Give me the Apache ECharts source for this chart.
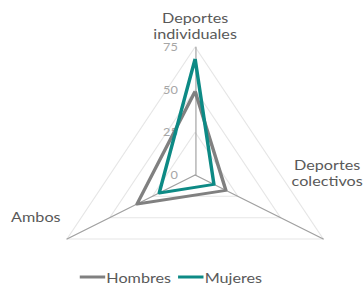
<!DOCTYPE html>
<html>
<head>
<meta charset="utf-8">
<script src="https://cdn.jsdelivr.net/npm/echarts@6/dist/echarts.min.js"></script>
<style>
  html, body { margin: 0; padding: 0; background: #fff; width: 363px; height: 287px; overflow: hidden; }
  /* the original radar is wider than it is tall, so stretch the chart horizontally */
  #chart { width: 314px; height: 287px; transform: scaleX(1.156); transform-origin: 0 0; }
</style>
</head>
<body>
<div id="chart"></div>
<script>
// ECharts lays radar axes out counter-clockwise: top, bottom-left, bottom-right
const indicators = ['Deportes\nindividuales', 'Ambos', 'Deportes\ncolectivos']
const hombres = [49, 34, 18]
const mujeres = [68, 21, 11]
const tickMax = 75

const chart = echarts.init(document.getElementById('chart'), null, { renderer: 'svg' })
const textColor = '#595959'
const font = 'Lato, "Noto Sans", sans-serif'
const nameFont = '14px ' + font

chart.setOption({
  animation: false,
  legend: {
    top: 269, left: 69, padding: 0,
    itemWidth: 22, itemHeight: 3, itemGap: 6,
    icon: 'rect',
    textStyle: { color: textColor, fontSize: 14, fontFamily: font, lineHeight: 16, padding: [0, 0, 0, -4] },
    data: ['Hombres', 'Mujeres']
  },
  graphic: [
    { type: 'text', x: 168.8, y: 9, style: { text: indicators[0], fill: textColor, font: nameFont, align: 'center', lineHeight: 16 } },
    { type: 'text', x: 31, y: 208, style: { text: indicators[1], fill: textColor, font: nameFont, align: 'center', lineHeight: 16 } },
    { type: 'text', x: 283, y: 156, style: { text: indicators[2], fill: textColor, font: nameFont, align: 'center', lineHeight: 16 } }
  ],
  radar: {
    center: [168.8, 175],
    radius: 128,
    startAngle: 90,
    shape: 'polygon',
    splitNumber: 3,
    indicator: indicators.map((n, i) => ({
      name: n, min: 0, max: tickMax,
      axisLabel: { show: i === 0 }
    })),
    axisName: { show: false },
    axisLabel: { color: '#a6a6a6', fontSize: 11, fontFamily: font, margin: 15 },
    axisLine: { lineStyle: { color: '#a0a0a0', width: 1 } },
    splitLine: { lineStyle: { color: '#e6e6e6', width: 1 } },
    splitArea: { show: false }
  },
  series: [{
    type: 'radar',
    symbol: 'none',
    data: [
      { name: 'Hombres', value: hombres, lineStyle: { color: '#808080', width: 3 }, itemStyle: { color: '#808080' } },
      { name: 'Mujeres', value: mujeres, lineStyle: { color: '#0d8a85', width: 3 }, itemStyle: { color: '#0d8a85' } }
    ]
  }]
})
</script>
</body>
</html>
